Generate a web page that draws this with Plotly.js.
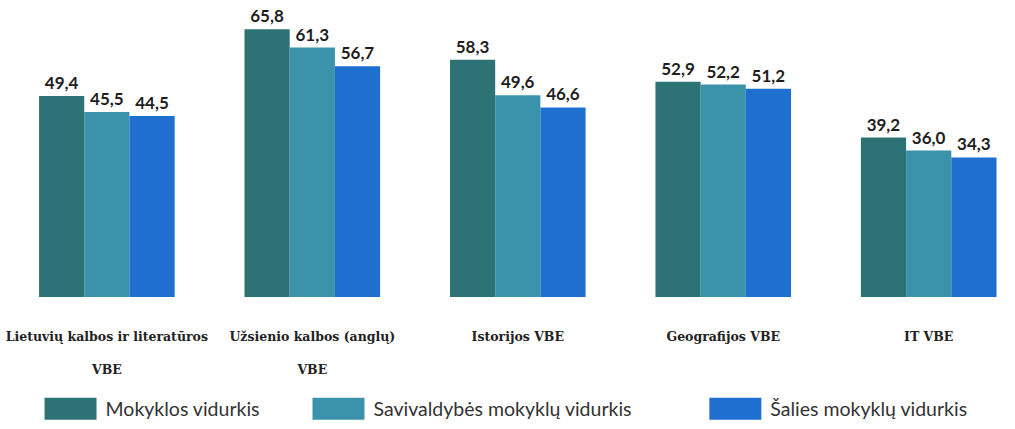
<!DOCTYPE html>
<html><head><meta charset="utf-8">
<script src="https://cdn.plot.ly/plotly-3.0.1.min.js"></script>
<style>html,body{margin:0;padding:0;background:#fff}#c{width:1015px;height:429px}</style>
</head><body><div id="c"></div>
<script>
const categories = ["Lietuvių kalbos ir literatūros<br><br>VBE", "Užsienio kalbos (anglų)<br><br>VBE", "Istorijos VBE", "Geografijos VBE", "IT VBE"];
const seriesNames = ["Mokyklos vidurkis", "Savivaldybės mokyklų vidurkis", "Šalies mokyklų vidurkis"];
const mokyklos = [49.4, 65.8, 58.3, 52.9, 39.2];
const savivaldybes = [45.5, 61.3, 49.6, 52.2, 36.0];
const salies = [44.5, 56.7, 46.6, 51.2, 34.3];
const colors = ["#2d7275", "#3a93aa", "#1f6fd0"];
const series = [mokyklos, savivaldybes, salies];
const legendIds = ['legend', 'legend2', 'legend3'];
const legendX = [0.035, 0.299, 0.690];

const fmt = v => v.toFixed(1).replace('.', ',');
const traces = series.map((vals, i) => ({
  type: 'bar', name: seriesNames[i], x: categories, y: vals,
  legend: legendIds[i],
  marker: {color: colors[i]},
  text: vals.map(fmt), textposition: 'outside', cliponaxis: false,
  textfont: {family: 'Lato, "Open Sans", sans-serif', size: 17, color: '#1e1e1e', weight: 'bold'},
  hoverinfo: 'skip'
}));

const layout = {
  width: 1015, height: 429,
  margin: {l: 0, r: 0, t: 0, b: 129},
  paper_bgcolor: '#fff', plot_bgcolor: '#fff',
  barmode: 'group', bargap: 0.34, bargroupgap: 0,
  showlegend: true,
  xaxis: {type: 'category', range: [-0.52, 4.42], showline: false, showgrid: false, zeroline: false,
    ticks: 'outside', ticklen: 28, tickcolor: 'rgba(0,0,0,0)',
    tickfont: {family: '"DejaVu Serif", "Liberation Serif", serif', size: 12.5, color: '#222', weight: 'bold'},
    tickangle: 0},
  yaxis: {range: [0, 73], visible: false, showgrid: false, zeroline: false},
};
legendIds.forEach((id, i) => {
  layout[id] = {orientation: 'h', x: legendX[i], xanchor: 'left', y: -0.377, yanchor: 'middle',
    font: {family: 'Lato, "Open Sans", sans-serif', size: 19.5, color: '#333'},
    itemwidth: 60, bgcolor: 'rgba(0,0,0,0)'};
});
Plotly.newPlot('c', traces, layout, {staticPlot: true, displayModeBar: false}).then(() => {
  document.querySelectorAll('.legendpoints path').forEach(p => p.setAttribute('d', 'M26,11H-26V-11H26Z'));
});
</script></body></html>
